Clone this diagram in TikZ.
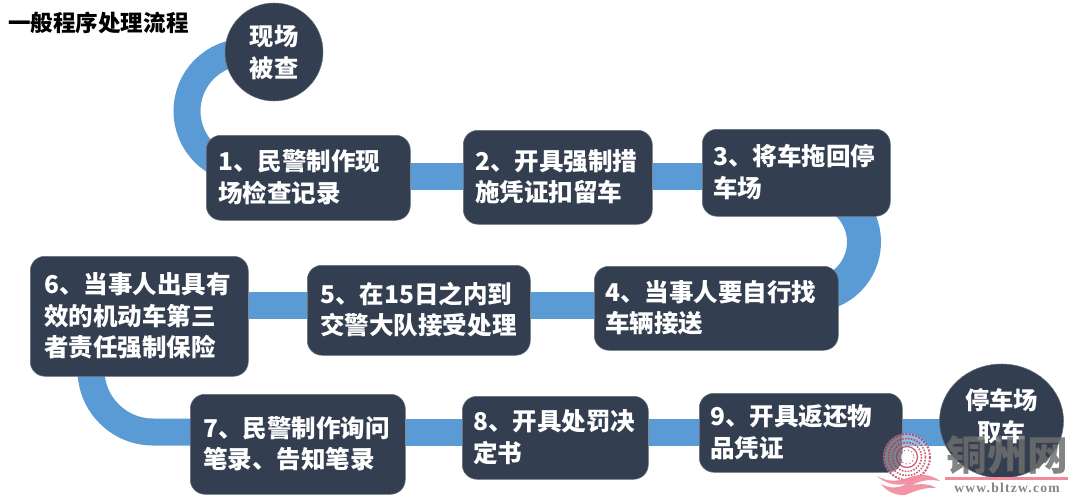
\documentclass[tikz,border=0pt]{standalone}
\usepackage{fontspec}
\usetikzlibrary{backgrounds,shapes.geometric}
\setmainfont{Noto Sans CJK SC}
\newfontfamily\wmfont{Liberation Serif}[LetterSpace=9]
\definecolor{boxfill}{HTML}{333F50}
\definecolor{bandblue}{HTML}{5B9BD5}
\definecolor{wmgray}{HTML}{6E6E6E}
\definecolor{wmpink}{HTML}{F08A9C}
\definecolor{wmred}{HTML}{B0304F}
\tikzset{
  x=0.75pt,y=-0.75pt,
  flowbox/.style={draw=boxfill!75!white,line width=0.4pt,fill=boxfill,rounded corners=11pt,text=white,inner sep=0pt,
    font=\fontsize{18.4pt}{23.6pt}\selectfont\bfseries},
  startend/.style={draw=boxfill!75!white,line width=0.4pt,fill=boxfill,text=white,inner sep=0pt,
    font=\fontsize{18.2pt}{24pt}\selectfont\bfseries,align=center},
  band/.style={draw=bandblue,line width=20.25pt},
  wmtext/.style={text=wmgray,opacity=0.85,inner sep=0pt},
}
\newcommand{\boxat}[7]{% name, x1, y1, x2, y2, pad, text
  \pgfmathsetmacro{\bw}{(#4-#2)*0.75}\pgfmathsetmacro{\bh}{(#5-#3)*0.75}
  \pgfmathsetmacro{\bt}{(#4-#2-#6)*0.75}
  \pgfmathsetmacro{\bp}{#6*0.75}
  \node[flowbox,minimum width=\bw pt,minimum height=\bh pt,anchor=north west] (#1) at (#2,#3)
    {\hspace*{\bp pt}\parbox{\bt pt}{\raggedright\rule{0pt}{20.3pt}#7\strut}};
}
\begin{document}
\begin{tikzpicture}
\useasboundingbox (0,0) rectangle (1080,503);
\node[anchor=west,inner sep=0pt,font=\fontsize{16.9pt}{20pt}\selectfont\bfseries] (title) at (8,23) {一般程序处理流程};
\node[startend,circle,minimum size=73.5pt] (start) at (274,52) {现场\\被查};
\boxat{b1}{206}{135}{410}{220}{12}{1、民警制作现\\场检查记录}
\boxat{b2}{463}{130}{652}{224}{12}{2、开具强制措\\施凭证扣留车}
\boxat{b3}{702}{129}{890}{216}{11}{3、将车拖回停\\车场}
\boxat{b4}{594}{266}{838}{350}{11}{4、当事人要自行找\\车辆接送}
\boxat{b5}{307}{265}{530}{355}{13}{5、在15日之内到\\交警大队接受处理}
\boxat{b6}{30}{256}{248}{376}{14}{6、当事人出具有\\效的机动车第三\\者责任强制保险}
\boxat{b7}{190}{394}{405}{494}{13}{7、民警制作询问\\笔录、告知笔录}
\boxat{b8}{462}{396}{648}{479}{11}{8、开具处罚决\\定书}
\boxat{b9}{699}{393}{902}{472}{11}{9、开具返还物\\品凭证}
\node[draw=boxfill!75!white,line width=0.4pt,fill=boxfill,ellipse,inner sep=0pt,minimum width=93pt,minimum height=85.5pt] (end) at (1001.5,421) {};
\node[startend,draw=none,fill=none] (endtext) at (1001.5,416.5) {停车场\\取车};
% connectors
\begin{scope}[on background layer]
  \coordinate (k1) at (187,52);
  \coordinate (k2) at (187,170);
  \coordinate (k3) at (864,189);
  \coordinate (k4) at (864,295);
  \coordinate (k5) at (91,432);
  \draw[band,rounded corners=44.25pt] (start.center) -- (k1) -- (k2) -- (b1.center |- k2);
  \draw[band] (b1.east |- 0,176) -- (b2.west |- 0,176);
  \draw[band] (b2.east |- 0,176) -- (b3.west |- 0,176);
  \draw[band,line width=25.5pt,rounded corners=39.75pt] (b3.center |- k3) -- (k3) -- (k4) -- (b4.center |- k4);
  \draw[band] (b4.west |- 0,305) -- (b5.east |- 0,305);
  \draw[band] (b5.west |- 0,305) -- (b6.east |- 0,305);
  \draw[band,rounded corners=46.5pt] (k5 |- b6.center) -- (k5) -- (b7.center |- k5);
  \draw[band] (b7.east |- k5) -- (b8.west |- k5);
  \draw[band] (b8.east |- k5) -- (b9.west |- k5);
  \draw[band] (b9.east |- k5) -- (end.center |- k5);
\end{scope}
% watermark
\fill[white,opacity=0.35] (907,457) circle[radius=24];
\begin{scope}[wmred,opacity=0.75]
  \draw[line width=1.5pt,densely dotted] (907,457) circle[radius=23];
  \draw[line width=1.2pt,densely dotted] (907,457) circle[radius=18.5];
  \draw[line width=1.2pt,densely dotted] (907,457) circle[radius=14.5];
  \draw[line width=1pt] (907,457) circle[radius=10.5];
  \fill[white] (907,457) circle[radius=6];
  \draw[line width=0.8pt,dotted] (907,457) circle[radius=7];
\end{scope}
\fill[wmpink,opacity=0.9] (877,476) .. controls (888,482) and (897,482) .. (910,477) .. controls (922,473) and (932,475) .. (940,481)
  .. controls (930,479) and (922,480) .. (912,485) .. controls (925,483) and (932,485) .. (936,488)
  .. controls (925,487) and (915,491) .. (905,495) .. controls (895,496) and (885,490) .. (881,484)
  .. controls (890,489) and (900,488) .. (906,484) .. controls (895,486) and (884,483) .. (877,476) -- cycle;
\node[wmtext,anchor=center,font=\fontsize{30.6pt}{31pt}\selectfont\bfseries] (wmname) at (1007.5,455) {铜州网};
\fill[wmpink] (945,477) rectangle (1068,479.5);
\node[wmtext,anchor=center,font=\wmfont\fontsize{10.2pt}{12pt}\selectfont\bfseries] (wmurl) at (1007,488) {www.bltzw.com};
\end{tikzpicture}
\end{document}
